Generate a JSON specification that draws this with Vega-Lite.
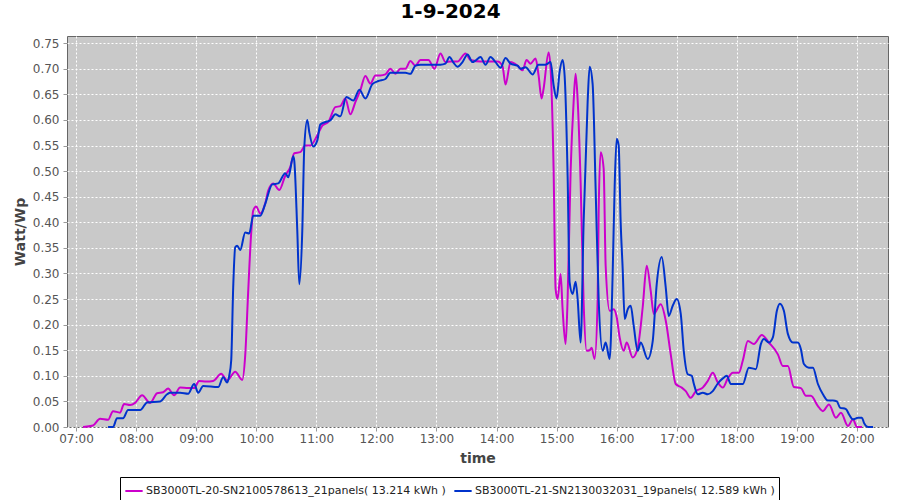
{
  "$schema": "https://vega.github.io/schema/vega-lite/v6.json",
  "autosize": "none",
  "width": 821,
  "height": 391,
  "padding": {"left": 67, "top": 36, "right": 12, "bottom": 73},
  "background": "white",
  "title": {"text": "1-9-2024", "font": "DejaVu Sans", "fontSize": 20, "fontWeight": "bold", "color": "black", "anchor": "middle", "dx": -27, "offset": 14},
  "config": {
    "view": {"fill": "#c9c9c9", "stroke": "#666666", "strokeWidth": 1},
    "axis": {"labelFont": "DejaVu Sans", "labelFontSize": 12, "labelColor": "#555555", "titleFont": "DejaVu Sans", "titleFontSize": 14, "titleFontWeight": "bold", "titleColor": "#444444", "gridColor": "white", "gridDash": [2, 2], "gridOpacity": 1, "gridWidth": 1, "domain": false, "tickColor": "#999999", "tickSize": 4},
    "legend": {"labelFont": "DejaVu Sans", "labelFontSize": 11, "labelColor": "#222222", "labelLimit": 600}
  },
  "datasets": {
    "a": [
      {"time":"2024-09-01T07:07Z","value":0.000},{"time":"2024-09-01T07:17Z","value":0.003},{"time":"2024-09-01T07:24Z","value":0.016},{"time":"2024-09-01T07:32Z","value":0.014},{"time":"2024-09-01T07:37Z","value":0.031},{"time":"2024-09-01T07:44Z","value":0.028},{"time":"2024-09-01T07:48Z","value":0.045},{"time":"2024-09-01T07:54Z","value":0.043},{"time":"2024-09-01T07:59Z","value":0.047},{"time":"2024-09-01T08:06Z","value":0.062},{"time":"2024-09-01T08:14Z","value":0.047},{"time":"2024-09-01T08:21Z","value":0.066},{"time":"2024-09-01T08:27Z","value":0.068},{"time":"2024-09-01T08:32Z","value":0.075},{"time":"2024-09-01T08:38Z","value":0.062},{"time":"2024-09-01T08:44Z","value":0.077},{"time":"2024-09-01T08:52Z","value":0.076},{"time":"2024-09-01T08:58Z","value":0.076},{"time":"2024-09-01T09:03Z","value":0.090},{"time":"2024-09-01T09:10Z","value":0.089},{"time":"2024-09-01T09:17Z","value":0.090},{"time":"2024-09-01T09:25Z","value":0.104},{"time":"2024-09-01T09:31Z","value":0.091},{"time":"2024-09-01T09:39Z","value":0.108},{"time":"2024-09-01T09:46Z","value":0.092},{"time":"2024-09-01T09:49Z","value":0.140},{"time":"2024-09-01T09:52Z","value":0.266},{"time":"2024-09-01T09:55Z","value":0.380},{"time":"2024-09-01T09:57Z","value":0.423},{"time":"2024-09-01T10:00Z","value":0.431},{"time":"2024-09-01T10:04Z","value":0.417},{"time":"2024-09-01T10:09Z","value":0.437},{"time":"2024-09-01T10:12Z","value":0.462},{"time":"2024-09-01T10:17Z","value":0.476},{"time":"2024-09-01T10:23Z","value":0.463},{"time":"2024-09-01T10:29Z","value":0.491},{"time":"2024-09-01T10:34Z","value":0.508},{"time":"2024-09-01T10:38Z","value":0.535},{"time":"2024-09-01T10:44Z","value":0.537},{"time":"2024-09-01T10:49Z","value":0.550},{"time":"2024-09-01T10:54Z","value":0.550},{"time":"2024-09-01T11:01Z","value":0.570},{"time":"2024-09-01T11:06Z","value":0.589},{"time":"2024-09-01T11:12Z","value":0.596},{"time":"2024-09-01T11:19Z","value":0.625},{"time":"2024-09-01T11:24Z","value":0.627},{"time":"2024-09-01T11:29Z","value":0.642},{"time":"2024-09-01T11:34Z","value":0.611},{"time":"2024-09-01T11:39Z","value":0.635},{"time":"2024-09-01T11:44Z","value":0.658},{"time":"2024-09-01T11:49Z","value":0.686},{"time":"2024-09-01T11:54Z","value":0.671},{"time":"2024-09-01T11:59Z","value":0.687},{"time":"2024-09-01T12:04Z","value":0.687},{"time":"2024-09-01T12:09Z","value":0.689},{"time":"2024-09-01T12:14Z","value":0.700},{"time":"2024-09-01T12:19Z","value":0.690},{"time":"2024-09-01T12:24Z","value":0.700},{"time":"2024-09-01T12:29Z","value":0.700},{"time":"2024-09-01T12:34Z","value":0.715},{"time":"2024-09-01T12:39Z","value":0.706},{"time":"2024-09-01T12:44Z","value":0.717},{"time":"2024-09-01T12:52Z","value":0.717},{"time":"2024-09-01T12:58Z","value":0.700},{"time":"2024-09-01T13:04Z","value":0.730},{"time":"2024-09-01T13:09Z","value":0.713},{"time":"2024-09-01T13:14Z","value":0.714},{"time":"2024-09-01T13:21Z","value":0.714},{"time":"2024-09-01T13:29Z","value":0.730},{"time":"2024-09-01T13:34Z","value":0.717},{"time":"2024-09-01T13:44Z","value":0.714},{"time":"2024-09-01T13:54Z","value":0.714},{"time":"2024-09-01T14:01Z","value":0.714},{"time":"2024-09-01T14:06Z","value":0.705},{"time":"2024-09-01T14:09Z","value":0.669},{"time":"2024-09-01T14:14Z","value":0.713},{"time":"2024-09-01T14:21Z","value":0.706},{"time":"2024-09-01T14:26Z","value":0.697},{"time":"2024-09-01T14:30Z","value":0.717},{"time":"2024-09-01T14:34Z","value":0.710},{"time":"2024-09-01T14:39Z","value":0.720},{"time":"2024-09-01T14:42Z","value":0.687},{"time":"2024-09-01T14:45Z","value":0.642},{"time":"2024-09-01T14:47Z","value":0.661},{"time":"2024-09-01T14:52Z","value":0.732},{"time":"2024-09-01T14:54Z","value":0.700},{"time":"2024-09-01T14:57Z","value":0.505},{"time":"2024-09-01T14:59Z","value":0.270},{"time":"2024-09-01T15:01Z","value":0.250},{"time":"2024-09-01T15:04Z","value":0.299},{"time":"2024-09-01T15:06Z","value":0.230},{"time":"2024-09-01T15:09Z","value":0.162},{"time":"2024-09-01T15:11Z","value":0.250},{"time":"2024-09-01T15:14Z","value":0.500},{"time":"2024-09-01T15:17Z","value":0.635},{"time":"2024-09-01T15:19Z","value":0.690},{"time":"2024-09-01T15:21Z","value":0.640},{"time":"2024-09-01T15:24Z","value":0.478},{"time":"2024-09-01T15:27Z","value":0.243},{"time":"2024-09-01T15:30Z","value":0.149},{"time":"2024-09-01T15:33Z","value":0.150},{"time":"2024-09-01T15:35Z","value":0.155},{"time":"2024-09-01T15:38Z","value":0.133},{"time":"2024-09-01T15:41Z","value":0.250},{"time":"2024-09-01T15:42Z","value":0.420},{"time":"2024-09-01T15:44Z","value":0.537},{"time":"2024-09-01T15:47Z","value":0.505},{"time":"2024-09-01T15:49Z","value":0.315},{"time":"2024-09-01T15:53Z","value":0.227},{"time":"2024-09-01T15:57Z","value":0.230},{"time":"2024-09-01T16:00Z","value":0.215},{"time":"2024-09-01T16:03Z","value":0.175},{"time":"2024-09-01T16:07Z","value":0.149},{"time":"2024-09-01T16:10Z","value":0.165},{"time":"2024-09-01T16:16Z","value":0.136},{"time":"2024-09-01T16:21Z","value":0.155},{"time":"2024-09-01T16:26Z","value":0.234},{"time":"2024-09-01T16:30Z","value":0.315},{"time":"2024-09-01T16:34Z","value":0.266},{"time":"2024-09-01T16:37Z","value":0.221},{"time":"2024-09-01T16:44Z","value":0.240},{"time":"2024-09-01T16:49Z","value":0.208},{"time":"2024-09-01T16:54Z","value":0.142},{"time":"2024-09-01T16:59Z","value":0.084},{"time":"2024-09-01T17:05Z","value":0.077},{"time":"2024-09-01T17:09Z","value":0.070},{"time":"2024-09-01T17:14Z","value":0.057},{"time":"2024-09-01T17:19Z","value":0.070},{"time":"2024-09-01T17:26Z","value":0.077},{"time":"2024-09-01T17:31Z","value":0.090},{"time":"2024-09-01T17:36Z","value":0.106},{"time":"2024-09-01T17:41Z","value":0.087},{"time":"2024-09-01T17:46Z","value":0.077},{"time":"2024-09-01T17:51Z","value":0.095},{"time":"2024-09-01T17:56Z","value":0.106},{"time":"2024-09-01T18:02Z","value":0.106},{"time":"2024-09-01T18:06Z","value":0.130},{"time":"2024-09-01T18:11Z","value":0.168},{"time":"2024-09-01T18:17Z","value":0.162},{"time":"2024-09-01T18:25Z","value":0.180},{"time":"2024-09-01T18:32Z","value":0.165},{"time":"2024-09-01T18:41Z","value":0.142},{"time":"2024-09-01T18:46Z","value":0.119},{"time":"2024-09-01T18:51Z","value":0.119},{"time":"2024-09-01T18:57Z","value":0.078},{"time":"2024-09-01T19:04Z","value":0.076},{"time":"2024-09-01T19:09Z","value":0.061},{"time":"2024-09-01T19:14Z","value":0.061},{"time":"2024-09-01T19:21Z","value":0.041},{"time":"2024-09-01T19:26Z","value":0.031},{"time":"2024-09-01T19:32Z","value":0.044},{"time":"2024-09-01T19:39Z","value":0.018},{"time":"2024-09-01T19:44Z","value":0.028},{"time":"2024-09-01T19:51Z","value":0.002},{"time":"2024-09-01T19:56Z","value":0.015},{"time":"2024-09-01T20:00Z","value":0.000},{"time":"2024-09-01T20:05Z","value":0.000}
    ],
    "b": [
      {"time":"2024-09-01T07:32Z","value":0.000},{"time":"2024-09-01T07:37Z","value":0.000},{"time":"2024-09-01T07:41Z","value":0.017},{"time":"2024-09-01T07:47Z","value":0.017},{"time":"2024-09-01T07:52Z","value":0.033},{"time":"2024-09-01T08:04Z","value":0.033},{"time":"2024-09-01T08:11Z","value":0.048},{"time":"2024-09-01T08:24Z","value":0.050},{"time":"2024-09-01T08:31Z","value":0.064},{"time":"2024-09-01T08:34Z","value":0.067},{"time":"2024-09-01T08:44Z","value":0.067},{"time":"2024-09-01T08:52Z","value":0.065},{"time":"2024-09-01T08:58Z","value":0.084},{"time":"2024-09-01T09:02Z","value":0.067},{"time":"2024-09-01T09:07Z","value":0.080},{"time":"2024-09-01T09:22Z","value":0.078},{"time":"2024-09-01T09:27Z","value":0.097},{"time":"2024-09-01T09:31Z","value":0.087},{"time":"2024-09-01T09:33Z","value":0.100},{"time":"2024-09-01T09:35Z","value":0.130},{"time":"2024-09-01T09:37Z","value":0.273},{"time":"2024-09-01T09:39Z","value":0.351},{"time":"2024-09-01T09:41Z","value":0.354},{"time":"2024-09-01T09:44Z","value":0.346},{"time":"2024-09-01T09:49Z","value":0.380},{"time":"2024-09-01T09:53Z","value":0.378},{"time":"2024-09-01T09:57Z","value":0.413},{"time":"2024-09-01T10:04Z","value":0.413},{"time":"2024-09-01T10:09Z","value":0.436},{"time":"2024-09-01T10:16Z","value":0.474},{"time":"2024-09-01T10:22Z","value":0.476},{"time":"2024-09-01T10:29Z","value":0.496},{"time":"2024-09-01T10:32Z","value":0.488},{"time":"2024-09-01T10:37Z","value":0.529},{"time":"2024-09-01T10:38Z","value":0.520},{"time":"2024-09-01T10:41Z","value":0.384},{"time":"2024-09-01T10:43Z","value":0.279},{"time":"2024-09-01T10:46Z","value":0.384},{"time":"2024-09-01T10:48Z","value":0.547},{"time":"2024-09-01T10:51Z","value":0.600},{"time":"2024-09-01T10:53Z","value":0.576},{"time":"2024-09-01T10:57Z","value":0.548},{"time":"2024-09-01T11:01Z","value":0.560},{"time":"2024-09-01T11:04Z","value":0.591},{"time":"2024-09-01T11:09Z","value":0.596},{"time":"2024-09-01T11:14Z","value":0.599},{"time":"2024-09-01T11:19Z","value":0.611},{"time":"2024-09-01T11:24Z","value":0.607},{"time":"2024-09-01T11:30Z","value":0.645},{"time":"2024-09-01T11:37Z","value":0.638},{"time":"2024-09-01T11:43Z","value":0.659},{"time":"2024-09-01T11:49Z","value":0.642},{"time":"2024-09-01T11:56Z","value":0.670},{"time":"2024-09-01T12:02Z","value":0.676},{"time":"2024-09-01T12:09Z","value":0.680},{"time":"2024-09-01T12:14Z","value":0.692},{"time":"2024-09-01T12:19Z","value":0.692},{"time":"2024-09-01T12:24Z","value":0.692},{"time":"2024-09-01T12:29Z","value":0.692},{"time":"2024-09-01T12:34Z","value":0.690},{"time":"2024-09-01T12:39Z","value":0.706},{"time":"2024-09-01T12:44Z","value":0.708},{"time":"2024-09-01T12:51Z","value":0.708},{"time":"2024-09-01T12:57Z","value":0.708},{"time":"2024-09-01T13:04Z","value":0.708},{"time":"2024-09-01T13:09Z","value":0.710},{"time":"2024-09-01T13:13Z","value":0.723},{"time":"2024-09-01T13:17Z","value":0.712},{"time":"2024-09-01T13:21Z","value":0.704},{"time":"2024-09-01T13:26Z","value":0.713},{"time":"2024-09-01T13:31Z","value":0.728},{"time":"2024-09-01T13:36Z","value":0.713},{"time":"2024-09-01T13:39Z","value":0.716},{"time":"2024-09-01T13:44Z","value":0.723},{"time":"2024-09-01T13:49Z","value":0.708},{"time":"2024-09-01T13:54Z","value":0.723},{"time":"2024-09-01T13:59Z","value":0.713},{"time":"2024-09-01T14:04Z","value":0.702},{"time":"2024-09-01T14:09Z","value":0.721},{"time":"2024-09-01T14:14Z","value":0.710},{"time":"2024-09-01T14:21Z","value":0.706},{"time":"2024-09-01T14:24Z","value":0.700},{"time":"2024-09-01T14:29Z","value":0.703},{"time":"2024-09-01T14:36Z","value":0.689},{"time":"2024-09-01T14:42Z","value":0.708},{"time":"2024-09-01T14:49Z","value":0.708},{"time":"2024-09-01T14:54Z","value":0.713},{"time":"2024-09-01T14:57Z","value":0.668},{"time":"2024-09-01T15:00Z","value":0.642},{"time":"2024-09-01T15:03Z","value":0.694},{"time":"2024-09-01T15:06Z","value":0.717},{"time":"2024-09-01T15:08Z","value":0.687},{"time":"2024-09-01T15:11Z","value":0.491},{"time":"2024-09-01T15:13Z","value":0.283},{"time":"2024-09-01T15:16Z","value":0.260},{"time":"2024-09-01T15:19Z","value":0.284},{"time":"2024-09-01T15:21Z","value":0.250},{"time":"2024-09-01T15:24Z","value":0.165},{"time":"2024-09-01T15:27Z","value":0.400},{"time":"2024-09-01T15:31Z","value":0.635},{"time":"2024-09-01T15:33Z","value":0.704},{"time":"2024-09-01T15:36Z","value":0.670},{"time":"2024-09-01T15:39Z","value":0.465},{"time":"2024-09-01T15:42Z","value":0.250},{"time":"2024-09-01T15:46Z","value":0.149},{"time":"2024-09-01T15:49Z","value":0.165},{"time":"2024-09-01T15:53Z","value":0.133},{"time":"2024-09-01T15:56Z","value":0.300},{"time":"2024-09-01T15:58Z","value":0.470},{"time":"2024-09-01T16:00Z","value":0.563},{"time":"2024-09-01T16:02Z","value":0.550},{"time":"2024-09-01T16:04Z","value":0.400},{"time":"2024-09-01T16:06Z","value":0.309},{"time":"2024-09-01T16:08Z","value":0.211},{"time":"2024-09-01T16:11Z","value":0.230},{"time":"2024-09-01T16:14Z","value":0.237},{"time":"2024-09-01T16:17Z","value":0.198},{"time":"2024-09-01T16:21Z","value":0.149},{"time":"2024-09-01T16:24Z","value":0.165},{"time":"2024-09-01T16:31Z","value":0.133},{"time":"2024-09-01T16:36Z","value":0.168},{"time":"2024-09-01T16:40Z","value":0.279},{"time":"2024-09-01T16:45Z","value":0.332},{"time":"2024-09-01T16:49Z","value":0.273},{"time":"2024-09-01T16:52Z","value":0.217},{"time":"2024-09-01T16:56Z","value":0.237},{"time":"2024-09-01T17:00Z","value":0.250},{"time":"2024-09-01T17:04Z","value":0.221},{"time":"2024-09-01T17:07Z","value":0.149},{"time":"2024-09-01T17:11Z","value":0.103},{"time":"2024-09-01T17:15Z","value":0.100},{"time":"2024-09-01T17:17Z","value":0.085},{"time":"2024-09-01T17:21Z","value":0.064},{"time":"2024-09-01T17:26Z","value":0.067},{"time":"2024-09-01T17:31Z","value":0.064},{"time":"2024-09-01T17:36Z","value":0.070},{"time":"2024-09-01T17:41Z","value":0.085},{"time":"2024-09-01T17:46Z","value":0.095},{"time":"2024-09-01T17:50Z","value":0.100},{"time":"2024-09-01T17:54Z","value":0.084},{"time":"2024-09-01T18:06Z","value":0.084},{"time":"2024-09-01T18:12Z","value":0.116},{"time":"2024-09-01T18:19Z","value":0.113},{"time":"2024-09-01T18:24Z","value":0.162},{"time":"2024-09-01T18:27Z","value":0.172},{"time":"2024-09-01T18:32Z","value":0.165},{"time":"2024-09-01T18:36Z","value":0.175},{"time":"2024-09-01T18:40Z","value":0.227},{"time":"2024-09-01T18:43Z","value":0.241},{"time":"2024-09-01T18:47Z","value":0.227},{"time":"2024-09-01T18:51Z","value":0.182},{"time":"2024-09-01T18:56Z","value":0.165},{"time":"2024-09-01T19:01Z","value":0.165},{"time":"2024-09-01T19:04Z","value":0.152},{"time":"2024-09-01T19:07Z","value":0.123},{"time":"2024-09-01T19:12Z","value":0.116},{"time":"2024-09-01T19:16Z","value":0.116},{"time":"2024-09-01T19:21Z","value":0.084},{"time":"2024-09-01T19:26Z","value":0.064},{"time":"2024-09-01T19:31Z","value":0.052},{"time":"2024-09-01T19:36Z","value":0.052},{"time":"2024-09-01T19:40Z","value":0.050},{"time":"2024-09-01T19:43Z","value":0.038},{"time":"2024-09-01T19:49Z","value":0.035},{"time":"2024-09-01T19:52Z","value":0.025},{"time":"2024-09-01T19:56Z","value":0.015},{"time":"2024-09-01T20:01Z","value":0.018},{"time":"2024-09-01T20:05Z","value":0.018},{"time":"2024-09-01T20:07Z","value":0.008},{"time":"2024-09-01T20:11Z","value":0.000},{"time":"2024-09-01T20:16Z","value":0.000}
    ]
  },
  "encoding": {
    "x": {
      "field": "time", "type": "temporal", "title": "time",
      "scale": {"type": "utc", "domain": [{"year": 2024, "month": 9, "date": 1, "hours": 6, "minutes": 51, "utc": true}, {"year": 2024, "month": 9, "date": 1, "hours": 20, "minutes": 31, "utc": true}]},
      "axis": {"labelExpr": "utcFormat(datum.value, '%H:%M')", "tickCount": 14, "labelPadding": 2, "titlePadding": 7, "labelFlush": false, "labelOverlap": false}
    },
    "y": {
      "field": "value", "type": "quantitative", "title": "Watt/Wp",
      "scale": {"domain": [0, 0.764], "nice": false, "zero": true},
      "axis": {"values": [0, 0.05, 0.1, 0.15, 0.2, 0.25, 0.3, 0.35, 0.4, 0.45, 0.5, 0.55, 0.6, 0.65, 0.7, 0.75], "format": ".2f", "labelPadding": 4, "titlePadding": 5}
    }
  },
  "layer": [
    {
      "data": {"name": "a"},
      "mark": {"type": "line", "interpolate": "monotone", "strokeWidth": 2},
      "encoding": {"color": {"datum": "SB3000TL-20-SN2100578613_21panels( 13.214 kWh )", "type": "nominal",
        "scale": {"domain": ["SB3000TL-20-SN2100578613_21panels( 13.214 kWh )", "SB3000TL-21-SN2130032031_19panels( 12.589 kWh )"], "range": ["#cc00cc", "#0033cc"]},
        "legend": {"title": null, "orient": "none", "legendX": 53, "legendY": 441, "direction": "horizontal", "strokeColor": "black", "fillColor": "white", "padding": 4, "symbolType": "stroke", "symbolSize": 300, "symbolStrokeWidth": 2, "columnPadding": 4, "labelOffset": 2}}}
    },
    {
      "data": {"name": "b"},
      "mark": {"type": "line", "interpolate": "monotone", "strokeWidth": 2},
      "encoding": {"color": {"datum": "SB3000TL-21-SN2130032031_19panels( 12.589 kWh )", "type": "nominal"}}
    }
  ]
}
